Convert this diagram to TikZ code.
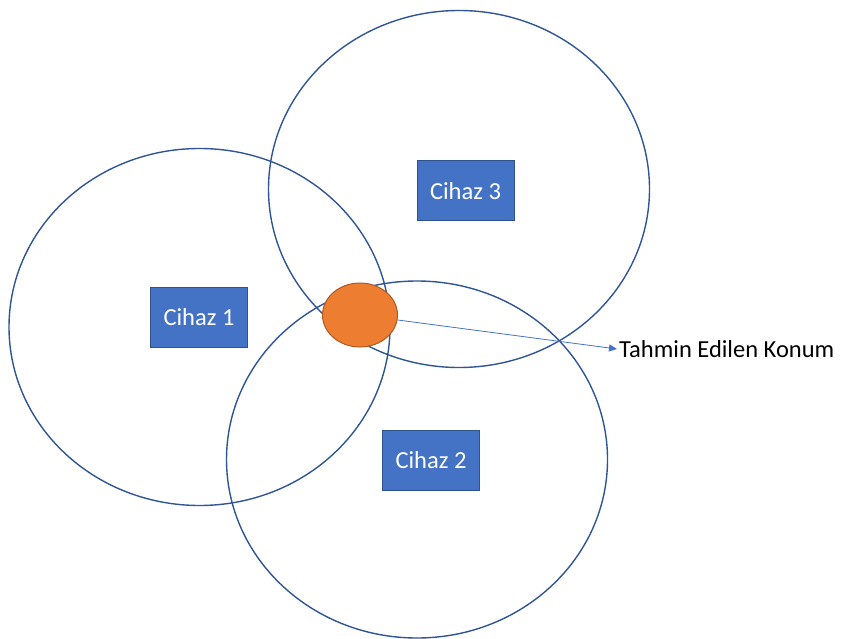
\documentclass[tikz,border=0pt]{standalone}
\usepackage{fontspec}
\setmainfont{Carlito}
\usepackage{xcolor}
\usepackage{tikz}
\usetikzlibrary{arrows.meta, positioning, shapes.geometric}

\definecolor{ringblue}{HTML}{2F5597}
\definecolor{boxblue}{HTML}{4472C4}
\definecolor{boxedge}{HTML}{2F528F}
\definecolor{estorange}{HTML}{ED7D31}
\definecolor{estedge}{HTML}{AE5A21}

\begin{document}
\begin{tikzpicture}[
  x=1pt,
  y=-1pt,
  ring/.style={
    ellipse,
    draw=ringblue,
    line width=1.4pt,
    minimum width=381pt,
    minimum height=357pt,
    inner sep=0pt
  },
  device/.style={
    rectangle,
    draw=boxedge,
    fill=boxblue,
    line width=1pt,
    text=white,
    align=center,
    minimum width=97pt,
    minimum height=60pt,
    font=\fontsize{24.5}{28}\selectfont
  },
  estimate/.style={
    ellipse,
    draw=estedge,
    fill=estorange,
    line width=1pt,
    minimum width=75pt,
    minimum height=64pt,
    inner sep=0pt
  },
  arrow/.style={-{Triangle[length=8pt, width=7pt]}, draw=boxblue, line width=0.8pt}
]

\useasboundingbox (0,0) rectangle (843,639);

% range circles
\node[ring] (ring1) at (199.5,327) {};
\node[ring] (ring3) at (459,189) {};
\node[ring] (ring2) at (417,459.5) {};

% devices
\node[device] (dev1) at (199,317.5) {Cihaz 1};
\node[device] (dev3) at (465.5,191) {Cihaz 3};
\node[device] (dev2) at (431,460) {Cihaz 2};

% estimated position
\node[estimate] (est) at (360,315) {};
\node[anchor=west, inner sep=2pt, font=\fontsize{24.5}{28}\selectfont]
  (estlabel) at (617,349) {Tahmin Edilen Konum};

\draw[arrow] (est) -- (estlabel.west);

\end{tikzpicture}
\end{document}
